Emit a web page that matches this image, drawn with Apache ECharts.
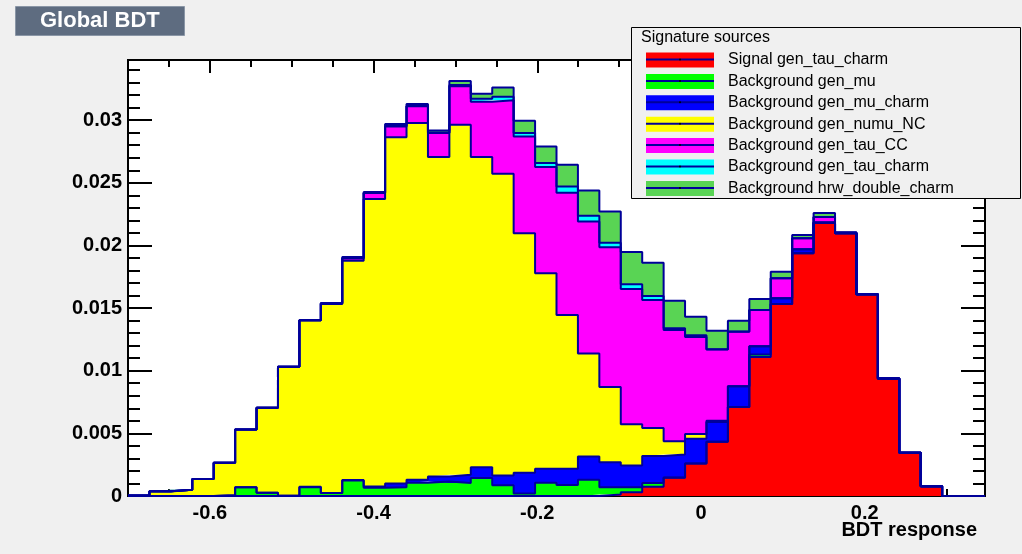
<!DOCTYPE html>
<html lang="en">
<head>
  <meta charset="UTF-8">
  <meta name="viewport" content="width=device-width, initial-scale=1.0">
  <title>Global BDT</title>
  <style>
    * {
      box-sizing: border-box;
      padding: 0;
      margin: 0;
    }
    html, body, #main {
      width: 100%;
      height: 100%;
      background: #f0f0f0;
    }
  </style>
  <script src="https://cdn.jsdelivr.net/npm/echarts@6/dist/echarts.min.js"></script>
</head>
<body>
  <div id="main"></div>
  <script>
    // binning of the BDT response histograms
    var xMin = -0.7, xMax = 0.347, nBins = 40;
    var yMax = 0.0348;

    var xMajorTicks = [-0.6, -0.4, -0.2, 0, 0.2];
    var xMinorTicks = [-0.65, -0.55, -0.5, -0.45, -0.35, -0.3, -0.25, -0.15, -0.1, -0.05, 0.05, 0.1, 0.15, 0.25, 0.3];
    var yMajorTicks = [0, 0.005, 0.01, 0.015, 0.02, 0.025, 0.03];
    var yMinorTicks = [0.001, 0.002, 0.003, 0.004, 0.006, 0.007, 0.008, 0.009, 0.011, 0.012, 0.013, 0.014,
      0.016, 0.017, 0.018, 0.019, 0.021, 0.022, 0.023, 0.024, 0.026, 0.027, 0.028, 0.029,
      0.031, 0.032, 0.033, 0.034];

    var names = ['Signal gen_tau_charm', 'Background gen_mu', 'Background gen_mu_charm', 'Background gen_numu_NC',
      'Background gen_tau_CC', 'Background gen_tau_charm', 'Background hrw_double_charm'];
    var colors = ['#ff0000', '#00ff00', '#0000ff', '#ffff00', '#ff00ff', '#00ffff', '#59d454'];

    // bin contents, stacked bottom to top in this order
    var sigTauCharm = [0, 0, 0, 0, 0, 0, 0, 0, 0, 0,
      0, 0, 0, 0, 0, 0, 0, 0, 0, 0,
      0, 0, 0.00012, 0.0003, 0.00074, 0.00145, 0.0026, 0.00434, 0.0071, 0.0111,
      0.01532, 0.01938, 0.0218, 0.02098, 0.0161, 0.00937, 0.00345, 0.00078, 0, 0];
    var genMu = [0, 0, 0, 0, 0.00005, 0.0007, 0.00025, 0.00002, 0.0007, 0.00023,
      0.00124, 0.00065, 0.0007, 0.00105, 0.00116, 0.00103, 0.00143, 0.00086, 0.0002, 0.00105,
      0.00088, 0.0013, 0.00058, 0.0004, 0.0003, 0.00002, 0, 0, 0, 0.0002,
      0, 0, 0, 0, 0, 0, 0, 0, 0, 0];
    var genMuCharm = [0, 0, 0, 0, 0, 0, 0, 0, 0.00003, 0,
      0.00003, 0.00011, 0.0003, 0.00025, 0.0004, 0.00067, 0.00087, 0.00078, 0.00166, 0.00112,
      0.00129, 0.00186, 0.002, 0.00174, 0.00216, 0.00185, 0.00197, 0.00156, 0.00166, 0.00066,
      0.00046, 0.00032, 0.00002, 0, 0, 0, 0, 0, 0, 0];
    var genNumuNC = [0.00004, 0.00036, 0.0005, 0.00135, 0.0026, 0.0046, 0.0068, 0.0103, 0.0133, 0.0151,
      0.0175, 0.02294, 0.02763, 0.02848, 0.0255, 0.02794, 0.02476, 0.02408, 0.01912, 0.01561,
      0.01227, 0.00822, 0.006, 0.00328, 0.00222, 0.00105, 0.00037, 0.0001, 0, 0,
      0, 0, 0, 0, 0, 0, 0, 0, 0, 0];
    var genTauCC = [0, 0.00002, 0, 0, 0, 0, 0, 0, 0, 0.00005,
      0.0002, 0.00048, 0.00087, 0.00132, 0.00192, 0.00306, 0.0044, 0.00586, 0.00772, 0.00848,
      0.00976, 0.01052, 0.01116, 0.0108, 0.01022, 0.00887, 0.00776, 0.0057, 0.00434, 0.00288,
      0.0016, 0.00088, 0.00044, 0.00003, 0, 0, 0, 0, 0, 0];
    var genTauCharm = [0, 0, 0, 0, 0, 0, 0, 0, 0, 0,
      0, 0, 0.00003, 0.00002, 0.00003, 0.0001, 0.00024, 0.00028, 0.00028, 0.00032,
      0.0005, 0.00046, 0.00036, 0.00038, 0.00032, 0.00014, 0.00014, 0.00002, 0.00002, 0,
      0, 0, 0, 0, 0, 0, 0, 0, 0, 0];
    var hrwDoubleCharm = [0, 0, 0, 0, 0, 0, 0, 0, 0, 0,
      0.0001, 0.00008, 0.00017, 0.00016, 0.00017, 0.00033, 0.0004, 0.00074, 0.00098, 0.00132,
      0.00174, 0.00202, 0.00248, 0.00258, 0.00266, 0.0022, 0.00146, 0.00146, 0.00086, 0.00088,
      0.00052, 0.00026, 0.00032, 0.00005, 0, 0, 0, 0, 0, 0];

    var histos = [sigTauCharm, genMu, genMuCharm, genNumuNC, genTauCC, genTauCharm, hrwDoubleCharm];

    var font = 'Liberation Sans, Arial, Helvetica, sans-serif';
    var lineColor = '#000099';

    // bin edges as categories (low edges + closing edge), so the stack works per bin
    var binW = (xMax - xMin) / nBins;
    var binEdges = [];
    for (var i = 0; i <= nBins; i++) binEdges.push((xMin + i * binW).toFixed(4));

    function stepValues(vals) {
      return vals.concat([vals[vals.length - 1]]);
    }

    function tickAxis(kind, position, ticks, len, withLabels) {
      var ax = {
        type: 'value',
        position: position,
        min: kind === 'x' ? xMin : 0,
        max: kind === 'x' ? xMax : yMax,
        axisLine: { show: false, onZero: false },
        splitLine: { show: false },
        axisTick: { inside: true, length: len, customValues: ticks, lineStyle: { color: '#000', width: 2 } },
        axisLabel: { show: false }
      };
      if (withLabels) {
        ax.axisLabel = {
          customValues: ticks,
          margin: kind === 'x' ? 7 : 6,
          fontFamily: font, fontSize: 20, fontWeight: 'bold', color: '#000'
        };
      }
      return ax;
    }

    var xAxes = [
      { type: 'category', data: binEdges, boundaryGap: false, position: 'bottom', show: false,
        axisLine: { onZero: false } },
      tickAxis('x', 'bottom', xMajorTicks, 14, true),
      tickAxis('x', 'bottom', xMinorTicks, 7, false),
      tickAxis('x', 'top', xMajorTicks, 13, false),
      tickAxis('x', 'top', xMinorTicks, 7, false)
    ];

    var yAxes = [
      tickAxis('y', 'left', yMajorTicks, 24, true),
      tickAxis('y', 'left', yMinorTicks, 12, false),
      tickAxis('y', 'right', yMajorTicks, 24, false),
      tickAxis('y', 'right', yMinorTicks, 12, false)
    ];

    var series = histos.map(function (vals, i) {
      return {
        name: names[i],
        type: 'line',
        stack: 'bdt',
        step: 'end',
        xAxisIndex: 0,
        yAxisIndex: 0,
        symbol: 'none',
        color: colors[i],
        lineStyle: { color: lineColor, width: 2 },
        areaStyle: { color: colors[i], opacity: 1 },
        data: stepValues(vals)
      };
    });

    // legend box (ROOT TLegend look) and axis title
    var legLeft = 646, legTop = 52, legItemH = 16, legGap = 5.4, legSwatchW = 68;
    var graphics = [
      { type: 'rect', z: 10, shape: { x: 631.5, y: 27.5, width: 389, height: 171 },
        style: { fill: '#f0f0f0', stroke: '#000', lineWidth: 1 } },
      { type: 'text', z: 30, x: 641, y: 38,
        style: { text: 'Signature sources', fill: '#000', font: '16px ' + font, verticalAlign: 'middle' } },
      { type: 'text', z: 30, x: 977, y: 530,
        style: { text: 'BDT response', fill: '#000', font: 'bold 20px ' + font, align: 'right', verticalAlign: 'middle' } }
    ];
    names.forEach(function (n, i) {
      var cy = legTop + 7.5 + i * (legItemH + legGap);
      graphics.push({ type: 'line', z: 30, shape: { x1: legLeft, y1: cy, x2: legLeft + legSwatchW, y2: cy },
        style: { stroke: lineColor, lineWidth: 2 } });
      graphics.push({ type: 'circle', z: 31, shape: { cx: legLeft + legSwatchW / 2, cy: cy, r: 1 },
        style: { fill: '#000' } });
    });

    var myChart = echarts.init(document.getElementById('main'));
    var option = {
      animation: false,
      backgroundColor: '#f0f0f0',
      textStyle: { fontFamily: font },
      title: {
        text: 'Global BDT',
        left: 15,
        top: 6,
        padding: [4, 25, 4, 25],
        backgroundColor: '#5e6c80',
        borderColor: '#8a96a6',
        borderWidth: 1,
        textStyle: { color: '#fff', fontSize: 22, fontWeight: 'bold', fontFamily: font }
      },
      grid: {
        left: 128, right: 37, top: 60, bottom: 58,
        show: true, backgroundColor: '#fff', borderColor: '#000', borderWidth: 2
      },
      legend: {
        orient: 'vertical',
        left: legLeft,
        top: legTop,
        padding: 0,
        itemGap: legGap,
        itemWidth: legSwatchW,
        itemHeight: 15,
        icon: 'rect',
        selectedMode: false,
        z: 20,
        itemStyle: { borderWidth: 0 },
        textStyle: { fontFamily: font, fontSize: 16, color: '#000', lineHeight: 16, padding: [0, 0, 0, 9] },
        data: names
      },
      xAxis: xAxes,
      yAxis: yAxes,
      graphic: graphics,
      series: series
    };
    myChart.setOption(option);
    window.onresize = myChart.resize;
  </script>
</body>
</html>
